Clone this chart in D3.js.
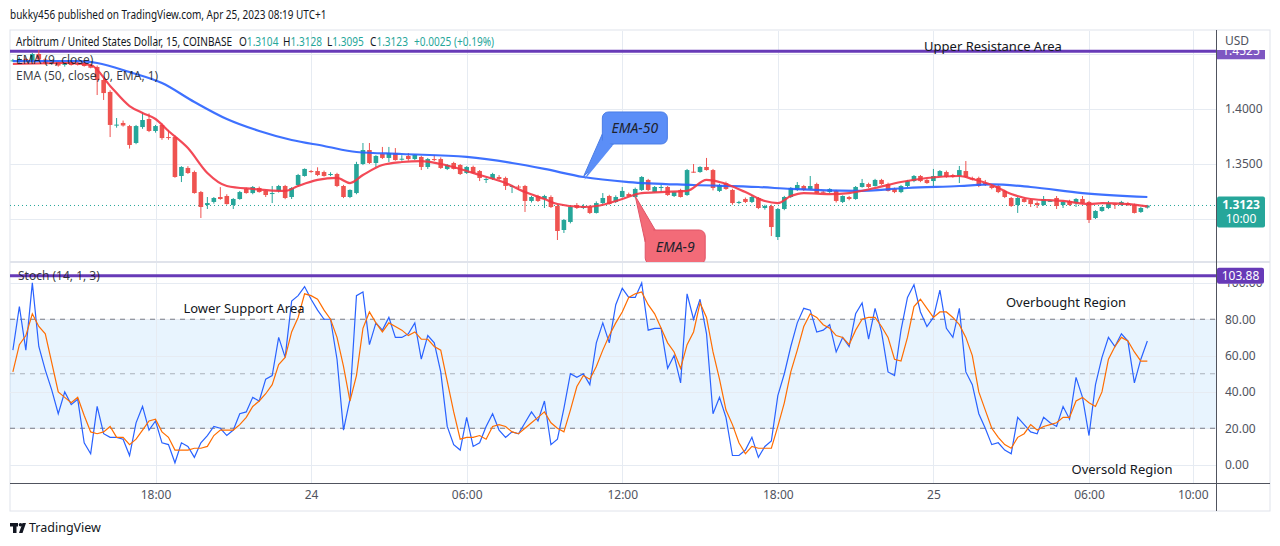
<!DOCTYPE html>
<html><head><meta charset="utf-8">
<script src="https://cdn.jsdelivr.net/npm/d3@7"></script>
<style>
body{margin:0;background:#fff;}
svg{display:block;font-family:"Noto Sans","Open Sans",sans-serif;}
</style>
</head><body>
<svg id="c" width="1280" height="546"></svg>
<script>
// ---------------- DATA ----------------
const startTime = "2023-04-23T12:30"; // first 15-min candle
const ohlc = [
[1.4440,1.4455,1.4430,1.4442],[1.4427,1.4470,1.4420,1.4455],[1.4455,1.4465,1.4435,1.4445],[1.4445,1.4510,1.4440,1.4500],
[1.4500,1.4536,1.4440,1.4450],[1.4450,1.4460,1.4405,1.4415],[1.4410,1.4440,1.4400,1.4425],[1.4427,1.4435,1.4385,1.4395],
[1.4405,1.4420,1.4385,1.4410],[1.4427,1.4440,1.4395,1.4400],[1.4415,1.4430,1.4395,1.4402],[1.4425,1.4445,1.4385,1.4391],
[1.4400,1.4410,1.4370,1.4375],[1.4382,1.4395,1.4127,1.4264],[1.4264,1.4280,1.4082,1.4145],[1.4155,1.4170,1.3745,1.3855],
[1.3855,1.3918,1.3830,1.3858],[1.3873,1.3895,1.3840,1.3850],[1.3845,1.3855,1.3640,1.3673],[1.3691,1.3855,1.3680,1.3845],
[1.3836,1.3970,1.3820,1.3900],[1.3909,1.3960,1.3790,1.3800],[1.3800,1.3855,1.3785,1.3845],[1.3855,1.3870,1.3720,1.3736],
[1.3745,1.3810,1.3720,1.3736],[1.3745,1.3760,1.3375,1.3382],[1.3391,1.3480,1.3336,1.3473],[1.3464,1.3480,1.3410,1.3418],
[1.3427,1.3440,1.3230,1.3236],[1.3245,1.3255,1.3009,1.3109],[1.3127,1.3200,1.3091,1.3145],[1.3155,1.3200,1.3140,1.3191],
[1.3200,1.3290,1.3175,1.3182],[1.3209,1.3225,1.3130,1.3136],[1.3127,1.3190,1.3091,1.3182],[1.3182,1.3255,1.3175,1.3245],
[1.3273,1.3285,1.3230,1.3236],[1.3236,1.3300,1.3225,1.3291],[1.3282,1.3295,1.3240,1.3245],[1.3255,1.3265,1.3200,1.3218],
[1.3227,1.3300,1.3145,1.3236],[1.3255,1.3310,1.3240,1.3300],[1.3300,1.3310,1.3180,1.3191],[1.3200,1.3290,1.3182,1.3282],
[1.3309,1.3410,1.3295,1.3400],[1.3391,1.3460,1.3385,1.3455],[1.3436,1.3445,1.3420,1.3427],[1.3436,1.3470,1.3390,1.3400],
[1.3427,1.3440,1.3385,1.3391],[1.3405,1.3425,1.3390,1.3409],[1.3409,1.3420,1.3290,1.3300],[1.3300,1.3310,1.3190,1.3200],
[1.3200,1.3270,1.3190,1.3264],[1.3236,1.3520,1.3225,1.3500],[1.3500,1.3691,1.3490,1.3627],[1.3627,1.3691,1.3500,1.3509],
[1.3509,1.3580,1.3473,1.3573],[1.3591,1.3655,1.3545,1.3555],[1.3555,1.3655,1.3518,1.3600],[1.3600,1.3645,1.3530,1.3536],
[1.3540,1.3580,1.3530,1.3548],[1.3573,1.3600,1.3530,1.3545],[1.3545,1.3590,1.3535,1.3582],[1.3564,1.3575,1.3445,1.3473],
[1.3473,1.3555,1.3455,1.3545],[1.3545,1.3582,1.3527,1.3536],[1.3545,1.3560,1.3455,1.3464],[1.3455,1.3500,1.3445,1.3491],
[1.3509,1.3520,1.3450,1.3455],[1.3491,1.3500,1.3400,1.3409],[1.3418,1.3480,1.3410,1.3473],[1.3473,1.3485,1.3410,1.3418],
[1.3436,1.3445,1.3345,1.3373],[1.3360,1.3375,1.3327,1.3364],[1.3364,1.3420,1.3355,1.3409],[1.3382,1.3400,1.3355,1.3364],
[1.3373,1.3385,1.3264,1.3300],[1.3291,1.3310,1.3236,1.3300],[1.3295,1.3310,1.3264,1.3288],[1.3300,1.3310,1.3064,1.3164],
[1.3164,1.3210,1.3150,1.3200],[1.3209,1.3220,1.3155,1.3164],[1.3182,1.3220,1.3100,1.3209],[1.3200,1.3215,1.3100,1.3109],
[1.3118,1.3130,1.2809,1.2891],[1.2900,1.3000,1.2873,1.2991],[1.2973,1.3120,1.2960,1.3109],[1.3127,1.3145,1.3091,1.3100],
[1.3100,1.3135,1.3090,1.3118],[1.3109,1.3125,1.3045,1.3055],[1.3055,1.3160,1.3050,1.3145],[1.3145,1.3236,1.3135,1.3191],
[1.3209,1.3220,1.3130,1.3136],[1.3155,1.3215,1.3145,1.3200],[1.3200,1.3291,1.3195,1.3255],[1.3227,1.3240,1.3205,1.3209],
[1.3200,1.3285,1.3190,1.3273],[1.3264,1.3390,1.3255,1.3382],[1.3355,1.3365,1.3255,1.3264],[1.3245,1.3300,1.3240,1.3291],
[1.3288,1.3310,1.3245,1.3291],[1.3291,1.3300,1.3210,1.3218],[1.3209,1.3250,1.3200,1.3245],[1.3264,1.3275,1.3195,1.3200],
[1.3218,1.3455,1.3210,1.3445],[1.3430,1.3500,1.3420,1.3425],[1.3427,1.3480,1.3420,1.3473],[1.3473,1.3555,1.3440,1.3445],
[1.3445,1.3455,1.3260,1.3282],[1.3255,1.3320,1.3245,1.3309],[1.3327,1.3340,1.3265,1.3273],[1.3264,1.3275,1.3130,1.3145],
[1.3150,1.3165,1.3135,1.3155],[1.3182,1.3195,1.3145,1.3155],[1.3155,1.3215,1.3145,1.3200],[1.3191,1.3200,1.3090,1.3100],
[1.3100,1.3130,1.3085,1.3118],[1.3118,1.3130,1.2845,1.2927],[1.2836,1.3100,1.2809,1.3091],[1.3091,1.3210,1.3080,1.3200],
[1.3200,1.3290,1.3190,1.3282],[1.3264,1.3336,1.3255,1.3309],[1.3300,1.3310,1.3255,1.3264],[1.3273,1.3391,1.3265,1.3300],
[1.3318,1.3330,1.3230,1.3236],[1.3248,1.3260,1.3235,1.3243],[1.3245,1.3280,1.3235,1.3273],[1.3255,1.3265,1.3150,1.3164],
[1.3155,1.3215,1.3145,1.3209],[1.3200,1.3210,1.3170,1.3182],[1.3182,1.3300,1.3175,1.3291],[1.3291,1.3364,1.3285,1.3327],
[1.3318,1.3330,1.3280,1.3291],[1.3300,1.3365,1.3295,1.3355],[1.3355,1.3365,1.3310,1.3318],[1.3318,1.3330,1.3250,1.3255],
[1.3273,1.3285,1.3235,1.3245],[1.3245,1.3310,1.3235,1.3300],[1.3300,1.3355,1.3290,1.3345],[1.3345,1.3400,1.3335,1.3391],
[1.3391,1.3400,1.3335,1.3345],[1.3355,1.3365,1.3320,1.3327],[1.3345,1.3455,1.3300,1.3391],[1.3391,1.3445,1.3385,1.3436],
[1.3427,1.3440,1.3375,1.3382],[1.3400,1.3410,1.3375,1.3382],[1.3391,1.3482,1.3327,1.3445],[1.3436,1.3527,1.3375,1.3382],
[1.3373,1.3385,1.3350,1.3360],[1.3373,1.3385,1.3290,1.3300],[1.3327,1.3355,1.3300,1.3310],[1.3300,1.3310,1.3270,1.3282],
[1.3300,1.3310,1.3235,1.3245],[1.3255,1.3265,1.3190,1.3200],[1.3191,1.3200,1.3110,1.3118],[1.3127,1.3200,1.3055,1.3191],
[1.3182,1.3195,1.3150,1.3155],[1.3173,1.3185,1.3109,1.3136],[1.3145,1.3160,1.3100,1.3127],[1.3127,1.3209,1.3120,1.3182],
[1.3160,1.3175,1.3155,1.3165],[1.3191,1.3209,1.3091,1.3118],[1.3127,1.3165,1.3100,1.3155],[1.3164,1.3175,1.3120,1.3127],
[1.3145,1.3190,1.3109,1.3182],[1.3182,1.3209,1.3135,1.3145],[1.3155,1.3165,1.2964,1.2991],[1.3009,1.3080,1.3000,1.3073],
[1.3073,1.3115,1.3065,1.3109],[1.3100,1.3164,1.3090,1.3145],[1.3136,1.3145,1.3091,1.3127],[1.3127,1.3165,1.3120,1.3155],
[1.3145,1.3155,1.3120,1.3127],[1.3127,1.3140,1.3050,1.3055],[1.3064,1.3110,1.3055,1.3100],[1.3104,1.3128,1.3095,1.3123]
];
const ema9Idx = [0,8,12,15,18,20,22,24,27,30,33,37,42,44,47,50,52,54,57,60,63,66,69,72,76,79,82,84,88,90,94,97,100,104,107,109,113,116,118,120,122,126,129,133,137,141,146,148,151,154,157,162,166,168,172,175];
const ema9Val = [1.4409,1.4418,1.4400,1.4210,1.4027,1.3964,1.3909,1.3800,1.3645,1.3418,1.3300,1.3273,1.3255,1.3300,1.3355,1.3373,1.3327,1.3400,1.3491,1.3518,1.3527,1.3500,1.3455,1.3400,1.3327,1.3245,1.3182,1.3136,1.3109,1.3118,1.3182,1.3236,1.3245,1.3255,1.3355,1.3336,1.3245,1.3164,1.3145,1.3209,1.3236,1.3227,1.3236,1.3282,1.3336,1.3373,1.3391,1.3364,1.3309,1.3227,1.3182,1.3164,1.3136,1.3145,1.3136,1.3115];
const ema50Idx = [0,10,13,18,23,28,33,38,43,48,53,60,70,77,82,88,95,105,115,120,130,138,146,151,157,165,175];
const ema50Val = [1.4436,1.4436,1.4418,1.4336,1.4236,1.4064,1.3909,1.3800,1.3718,1.3664,1.3609,1.3591,1.3564,1.3509,1.3455,1.3382,1.3336,1.3309,1.3291,1.3273,1.3255,1.3282,1.3300,1.3314,1.3291,1.3236,1.3200];
const stochK = [63,87,63,100,65,52,41,28,40,33,36,12,6,32,17,15,15,14,5,23,32,19,24,12,11,1,12,10,4,12,16,21,20,16,19,28,29,37,35,47,49,70,59,90,93,98,91,85,80,80,58,19,36,93,95,66,78,74,81,70,70,72,78,58,71,67,51,21,11,8,26,10,12,21,28,19,15,18,17,23,29,24,35,11,14,31,50,48,50,44,67,78,67,88,97,92,92,100,74,75,75,53,60,45,94,80,91,72,28,37,26,5,5,8,15,4,10,13,38,50,65,78,86,85,73,74,77,62,70,65,83,89,69,86,73,51,49,74,92,99,84,76,81,96,75,70,86,51,44,28,20,11,12,8,6,26,22,18,17,26,23,21,32,25,48,37,16,44,59,70,65,72,68,45,58,68];
const stochD = [51,66,71,83,76,72,56,40,37,34,37,27,18,17,18,21,15,15,11,14,19,24,25,18,15,8,8,8,9,9,10,16,19,19,19,22,26,32,35,39,44,55,59,73,81,94,93,91,85,80,70,54,35,49,75,84,78,73,78,76,74,71,73,69,69,65,63,46,29,14,15,15,16,14,21,22,21,18,17,20,23,26,29,23,20,18,30,43,49,47,54,63,71,78,84,92,94,95,88,83,75,67,62,53,66,73,89,81,62,47,30,22,12,6,10,9,9,9,21,34,51,63,76,83,81,77,75,71,70,66,74,80,81,81,76,70,58,57,70,87,91,86,81,84,84,81,77,70,60,40,30,20,15,11,9,15,17,22,19,21,22,23,26,26,35,37,34,32,40,58,65,70,68,62,57,57];
const priceGrid = [1.30, 1.35, 1.40, 1.45];
const priceLabels = [1.35, 1.40];
const stochTicks = [0, 20, 40, 60, 80, 100];
const stochBands = [80, 50, 20];
const timeTicks = ["2023-04-23T18:00","2023-04-24T00:00","2023-04-24T06:00","2023-04-24T12:00","2023-04-24T18:00","2023-04-25T00:00","2023-04-25T06:00","2023-04-25T10:00"];
const resistanceLevel = 1.4525;
const resistanceLabel = "1.4525";
const stochLevel = 103.88;
const lastClose = 1.3123;
const countdown = "10:00";
const legendOHLC = [["O","1.3104"],["H","1.3128"],["L","1.3095"],["C","1.3123"]];
const legendChange = "+0.0025 (+0.19%)";
const ema50CalloutIdx = 88, ema9CalloutIdx = 96;

// ---------------- LAYOUT ----------------
const L = 10, R = 1216, FR = 1270;
const mainTop = 31, mainBot = 262, stTop = 263, stBot = 483, axBot = 511;
const UP = "#26a69a", DN = "#ef5350";
const svg = d3.select("#c");
const parse = d3.utcParse("%Y-%m-%dT%H:%M");
const t0 = parse(startTime);
const timeOf = i => new Date(+t0 + i * 15 * 60000);
const x = d3.scaleUtc().domain([parse("2023-04-23T18:00"), parse("2023-04-25T06:00")]).range([155.5, 1089]);
const y = d3.scaleLinear().domain([1.30, 1.40]).range([219, 109]);
const ys = d3.scaleLinear().domain([0, 100]).range([464.6, 282.9]);
const xi = i => x(timeOf(i));

const defs = svg.append("defs");
defs.append("clipPath").attr("id","cm").append("rect").attr("x",L).attr("y",mainTop).attr("width",R-L).attr("height",mainBot-mainTop);
defs.append("clipPath").attr("id","cs").append("rect").attr("x",L).attr("y",stTop).attr("width",R-L).attr("height",stBot-stTop);
defs.append("clipPath").attr("id","ctop").append("rect").attr("x",R).attr("y",50).attr("width",60).attr("height",20);

// narrow text helper (the reference renders this UI font horizontally condensed)
function narrowText(xp, yp, size, sx, fill, str) {
  return svg.append("text").attr("transform",`translate(${xp},${yp}) scale(${sx},1)`)
    .attr("font-size",size).attr("fill",fill).text(str);
}

// header
narrowText(10, 19, 12.5, 0.8, "#131722", "bukky456 published on TradingView.com, Apr 25, 2023 08:19 UTC+1");

// frame
svg.append("rect").attr("x",L).attr("y",mainTop-1).attr("width",FR-L).attr("height",axBot-mainTop+1)
  .attr("fill","#fff").attr("stroke","#e0e3eb");

// stoch band
svg.append("rect").attr("x",L).attr("width",R-L).attr("y",ys(80)).attr("height",ys(20)-ys(80)).attr("fill","rgba(33,150,243,0.1)");

// grids
const grid = svg.append("g").attr("stroke","#e6ebf2").attr("stroke-width",1);
timeTicks.forEach(t => {
  const gx = Math.round(x(parse(t))) + 0.5;
  grid.append("line").attr("x1",gx).attr("x2",gx).attr("y1",mainTop).attr("y2",stBot);
});
priceGrid.forEach(p => {
  const gy = Math.round(y(p)) + 0.5;
  grid.append("line").attr("x1",L).attr("x2",R).attr("y1",gy).attr("y2",gy);
});
stochTicks.forEach(v => {
  const gy = Math.round(ys(v)) + 0.5;
  grid.append("line").attr("x1",L).attr("x2",R).attr("y1",gy).attr("y2",gy);
});
svg.append("rect").attr("x",L).attr("y",mainBot-1).attr("width",FR-L).attr("height",2).attr("fill","#e0e3eb");

stochBands.forEach(v => {
  svg.append("line").attr("x1",L).attr("x2",R).attr("y1",ys(v)).attr("y2",ys(v))
    .attr("stroke", v===50 ? "rgba(120,123,134,0.55)" : "#787b86").attr("stroke-dasharray","5,5");
});

// ---- main pane ----
const gm = svg.append("g").attr("clip-path","url(#cm)");
gm.append("line").attr("x1",L).attr("x2",R).attr("y1",y(resistanceLevel)).attr("y2",y(resistanceLevel))
  .attr("stroke","#673ab7").attr("stroke-width",3);
gm.append("line").attr("x1",L).attr("x2",R).attr("y1",y(lastClose)).attr("y2",y(lastClose))
  .attr("stroke",UP).attr("stroke-dasharray","1,3");

const candles = gm.append("g");
ohlc.forEach((d,i) => {
  const [o,h,l,c] = d;
  const col = c >= o ? UP : DN;
  const cx = xi(i);
  candles.append("line").attr("x1",cx).attr("x2",cx).attr("y1",y(h)).attr("y2",y(l)).attr("stroke",col).attr("stroke-width",1);
  const top = y(Math.max(o,c)), bot = y(Math.min(o,c));
  candles.append("rect").attr("x",cx-2.3).attr("width",4.6).attr("y",top).attr("height",Math.max(1,bot-top)).attr("fill",col);
});

const line = d3.line().x(d => xi(d[0])).y(d => y(d[1])).curve(d3.curveMonotoneX);
const ema50Pts = ema50Idx.map((k,j) => [k, ema50Val[j]]);
const ema9Pts = ema9Idx.map((k,j) => [k, ema9Val[j]]);
gm.append("path").attr("d", line(ema50Pts)).attr("fill","none").attr("stroke","#2962ff").attr("stroke-width",2.2).attr("stroke-opacity",0.9);
gm.append("path").attr("d", line(ema9Pts)).attr("fill","none").attr("stroke","#f23645").attr("stroke-width",2.2).attr("stroke-opacity",0.9);

// legend texts
const legY = 46, legFS = 12, legSX = 0.84;
narrowText(16, legY, legFS, legSX, "#131722", "Arbitrum / United States Dollar, 15, COINBASE");
const legX = [239, 283, 327, 370];
legendOHLC.forEach(([k,v],j) => {
  const t = svg.append("text").attr("transform",`translate(${legX[j]},${legY}) scale(${legSX},1)`).attr("font-size",legFS);
  t.append("tspan").attr("fill","#131722").text(k);
  t.append("tspan").attr("fill",UP).text(v);
});
narrowText(414, legY, legFS, legSX, UP, legendChange);
svg.append("text").attr("x",16).attr("y",64).attr("font-size",12).attr("fill","#131722").attr("fill-opacity",0.85).text("EMA (9, close)");
svg.append("text").attr("x",16).attr("y",80).attr("font-size",12).attr("fill","#131722").attr("fill-opacity",0.85).text("EMA (50, close, 0, EMA, 1)");
svg.append("text").attr("x",993).attr("y",51).attr("font-size",13).attr("text-anchor","middle").attr("fill","#131722").text("Upper Resistance Area");

// callouts
function callout(tip, box, base1, base2, fill, stroke, label) {
  const g = svg.append("g").attr("clip-path","url(#cm)");
  g.append("path").attr("d", `M${base1[0]},${base1[1]}L${tip[0]},${tip[1]}L${base2[0]},${base2[1]}Z`)
    .attr("fill",fill).attr("stroke",stroke).attr("stroke-width",1);
  g.append("rect").attr("x",box[0]).attr("y",box[1]).attr("width",box[2]).attr("height",box[3]).attr("rx",6)
    .attr("fill",fill).attr("stroke",stroke).attr("stroke-width",1);
  g.append("path").attr("d", `M${base1[0]+2},${base1[1]+3}L${tip[0]+1},${tip[1]+3}L${base2[0]-1},${base2[1]+2}Z`).attr("fill",fill);
  g.append("text").attr("x",box[0]+box[2]/2).attr("y",box[1]+box[3]/2+5).attr("text-anchor","middle")
    .attr("font-size",14).attr("font-style","italic").attr("fill","#1e222d").text(label);
}
{
  const tx = xi(ema50CalloutIdx);
  const ty50 = y(ema50Val[ema50Idx.indexOf(ema50CalloutIdx)]);
  callout([tx, ty50], [tx+19, ty50-65, 65, 32], [tx+19, ty50-43], [tx+30, ty50-33], "#5b8ef7", "#4a7de6", "EMA-50");
  const t9x = xi(ema9CalloutIdx);
  const t9y = y(1.3209);
  callout([t9x, t9y], [t9x+10, t9y+34, 60, 34], [t9x+10, t9y+46], [t9x+20, t9y+34], "#f36b78", "#e05467", "EMA-9");
}

// ---- stoch pane ----
const gs = svg.append("g").attr("clip-path","url(#cs)");
gs.append("line").attr("x1",L).attr("x2",R).attr("y1",ys(stochLevel)).attr("y2",ys(stochLevel)).attr("stroke","#673ab7").attr("stroke-width",3);
const sl = d3.line().x((d,i) => xi(i)).y(d => ys(d));
gs.append("path").attr("d", sl(stochK)).attr("fill","none").attr("stroke","#2962ff").attr("stroke-width",1.2);
gs.append("path").attr("d", sl(stochD)).attr("fill","none").attr("stroke","#ff6d00").attr("stroke-width",1.2);

svg.append("text").attr("x",18).attr("y",280).attr("font-size",12).attr("fill","#131722").attr("fill-opacity",0.85).text("Stoch (14, 1, 3)");
svg.append("text").attr("x",244).attr("y",313).attr("font-size",13).attr("text-anchor","middle").attr("fill","#131722").text("Lower Support Area");
svg.append("text").attr("x",1066).attr("y",307).attr("font-size",13).attr("text-anchor","middle").attr("fill","#131722").text("Overbought Region");
svg.append("text").attr("x",1122).attr("y",474).attr("font-size",13).attr("text-anchor","middle").attr("fill","#131722").text("Oversold Region");

// ---- axes ----
const pa = svg.append("g").attr("transform",`translate(${R},0)`)
  .call(d3.axisRight(y).tickValues(priceLabels).tickFormat(d3.format(".4f")).tickSize(0).tickPadding(9));
const sa = svg.append("g").attr("transform",`translate(${R},0)`)
  .call(d3.axisRight(ys).tickValues(stochTicks.filter(v => v < 100)).tickFormat(d3.format(".2f")).tickSize(0).tickPadding(9));
const ta = svg.append("g").attr("transform",`translate(0,${stBot})`)
  .call(d3.axisBottom(x).tickValues(timeTicks.map(parse)).tickSize(0).tickPadding(7)
    .tickFormat(d => (d.getUTCHours()===0 ? d3.utcFormat("%-d")(d) : d3.utcFormat("%H:%M")(d))));
[pa,sa,ta].forEach(a => {
  a.select(".domain").remove();
  a.selectAll("text").attr("font-size",12).attr("fill","#50535e").attr("font-family","'Noto Sans',sans-serif");
});
// partially hidden 100.00 label (peeks out below the level label)
defs.append("clipPath").attr("id","c100").append("rect").attr("x",R).attr("y",ys(stochLevel)+8).attr("width",60).attr("height",10);
svg.append("text").attr("clip-path","url(#c100)").attr("x",R+9).attr("y",ys(100)+4).attr("font-size",12).attr("fill","#50535e").text(d3.format(".2f")(100));

svg.append("line").attr("x1",R+0.5).attr("x2",R+0.5).attr("y1",mainTop-1).attr("y2",axBot).attr("stroke","#50535e");
svg.append("line").attr("x1",L).attr("x2",FR).attr("y1",stBot+0.5).attr("y2",stBot+0.5).attr("stroke","#50535e");

// USD header + resistance label
svg.append("text").attr("x",R+9).attr("y",45).attr("font-size",12).attr("fill","#50535e").text("USD");
const rl = svg.append("g").attr("clip-path","url(#ctop)");
rl.append("rect").attr("x",R+1).attr("y",y(resistanceLevel)-7).attr("width",48).attr("height",15).attr("fill","#7e57c2");
rl.append("text").attr("x",R+25).attr("y",y(resistanceLevel)+4).attr("text-anchor","middle").attr("font-size",12).attr("fill","#fff").text(resistanceLabel);

// last price label
const ly = y(lastClose);
svg.append("rect").attr("x",R+1).attr("y",ly-9).attr("width",48).attr("height",31).attr("rx",2).attr("fill",UP);
svg.append("text").attr("x",R+25).attr("y",ly+4).attr("text-anchor","middle").attr("font-size",12).attr("font-weight","bold").attr("fill","#fff").text(lastClose.toFixed(4));
svg.append("text").attr("x",R+25).attr("y",ly+18).attr("text-anchor","middle").attr("font-size",12).attr("fill","#fff").text(countdown);

// stoch level label
const sly = ys(stochLevel);
svg.append("rect").attr("x",R+1).attr("y",sly-8).attr("width",47).attr("height",16).attr("rx",2).attr("fill","#673ab7");
svg.append("text").attr("x",R+24.5).attr("y",sly+4.5).attr("text-anchor","middle").attr("font-size",12).attr("fill","#fff").text(stochLevel.toFixed(2));

// footer logo
const lg = svg.append("g").attr("fill","#131722");
lg.append("rect").attr("x",10).attr("y",523).attr("width",8).attr("height",3.5);
lg.append("rect").attr("x",13).attr("y",523).attr("width",3.5).attr("height",10);
lg.append("circle").attr("cx",20.5).attr("cy",524.8).attr("r",1.8);
lg.append("path").attr("d","M22.5,523 L26,523 L22.5,533 L19,533 Z");
svg.append("text").attr("x",29).attr("y",532).attr("font-size",12.5).attr("fill","#131722").text("TradingView");
</script>
</body></html>
